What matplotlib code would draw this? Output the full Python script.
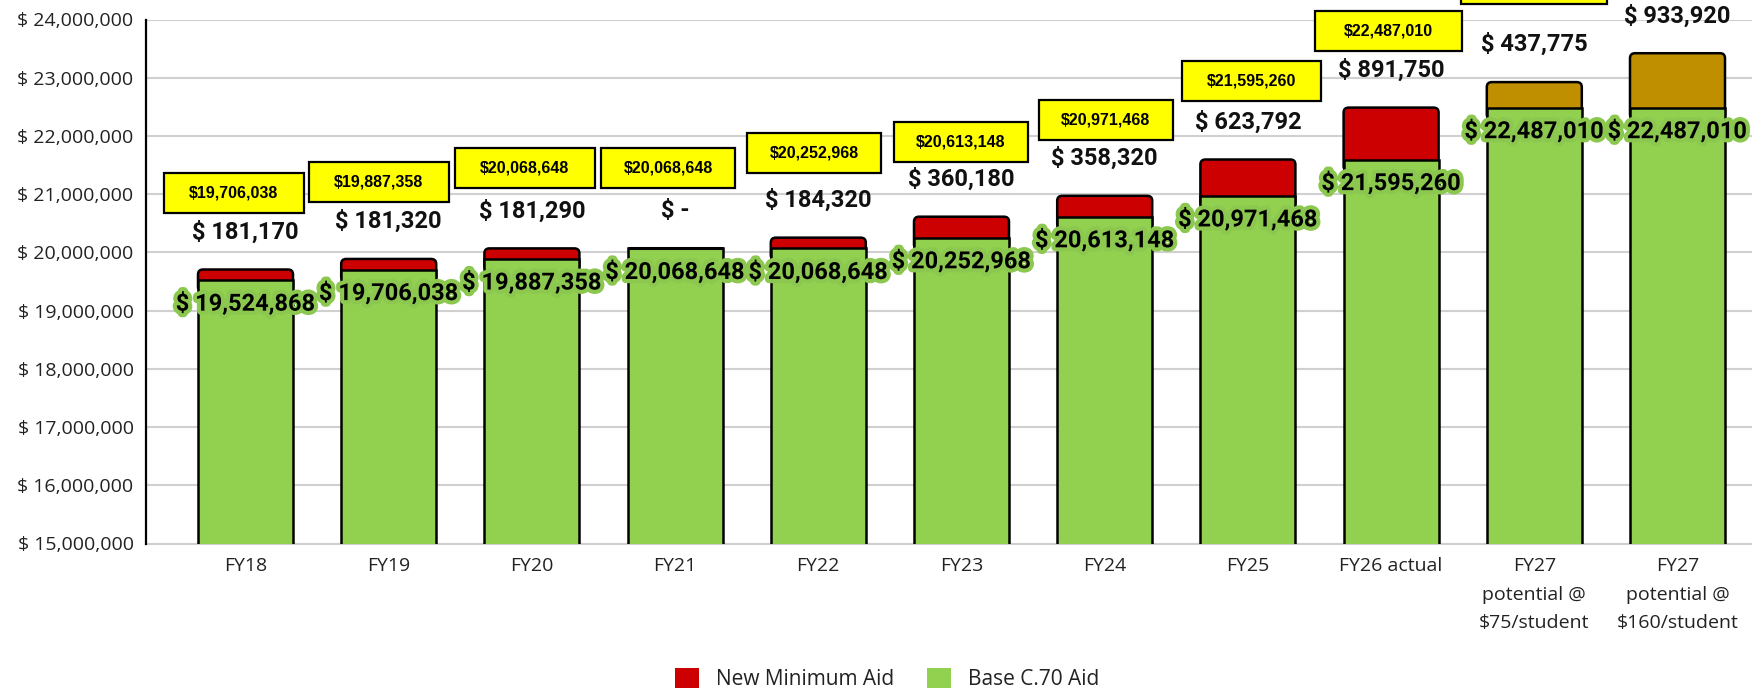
import matplotlib
matplotlib.use('Agg')
import numpy as np
import matplotlib.pyplot as plt
import matplotlib.patheffects as pe
import matplotlib.transforms as mtrans
from matplotlib.patches import FancyBboxPatch, Rectangle, Patch

categories = ['FY18', 'FY19', 'FY20', 'FY21', 'FY22', 'FY23', 'FY24', 'FY25', 'FY26 actual',
              'FY27\npotential @\n$75/student', 'FY27\npotential @\n$160/student']
base_aid = [19524868, 19706038, 19887358, 20068648, 20068648, 20252968,
            20613148, 20971468, 21595260, 22487010, 22487010]
min_aid = [181170, 181320, 181290, 0, 184320, 360180, 358320, 623792, 891750, 437775, 933920]
totals = [19706038, 19887358, 20068648, 20068648, 20252968, 20613148,
          20971468, 21595260, 22487010, 22924785, 23420930]
yticks = [15000000, 16000000, 17000000, 18000000, 19000000, 20000000,
          21000000, 22000000, 23000000, 24000000]

# layout of the yellow total boxes, in pixels
box_dx = [-12, -10, -7, -7, -4, -1, 1, 4, -3, 0, 0]
box_w = [140, 140, 140, 134, 134, 134, 134, 139, 147, 146, 146]
box_dy = [77, 77, 80, 80, 85, 75, 76, 79, 77, 98, 98]

green = '#92D050'
top_colors = ['#CC0000'] * 9 + ['#BF8F00'] * 2
tick_font = 'Open Sans'
tick_size = 14

W, H = 1752, 688
fig = plt.figure(figsize=(W / 100, H / 100), dpi=100)
ax = fig.add_axes([146 / W, 1 - 543.5 / H, 1 - 146 / W, 524 / H])

px_x = 143.2              # pixels per category
px_y = 524 / 9e6          # pixels per dollar
x = np.arange(len(categories))
bw = 95 / px_x

ax.set_xlim(-99.5 / px_x, (W - 245.5) / px_x)
ax.set_ylim(15e6, 24e6)

# top segments (rounded tops), then green base drawn over them
tops = ax.bar(x, min_aid, bottom=base_aid, width=bw, color=top_colors,
              edgecolor='black', linewidth=1.8, zorder=2)
r = 5 / px_x
for rect, c in zip(tops, top_colors):
    h = rect.get_height()
    if h <= 0:
        rect.set_zorder(4)
        rect.set_linewidth(2.2)
        continue
    ext = 0.2e6
    p = FancyBboxPatch((rect.get_x(), rect.get_y() - ext), rect.get_width(), h + ext,
                       boxstyle=f'round,pad=0,rounding_size={r}',
                       mutation_aspect=px_x / px_y,
                       facecolor=c, edgecolor='black', linewidth=1.8, zorder=2)
    ax.add_patch(p)
    rect.set_visible(False)

ax.bar(x, base_aid, width=bw, color=green, edgecolor='black', linewidth=1.8, zorder=3)

# labels
glow = [pe.withStroke(linewidth=6, foreground='#8CC84F')]
for i in range(len(categories)):
    ax.annotate(f'$ {base_aid[i]:,}', xy=(i, base_aid[i]), xytext=(0, -24 * 0.72),
                textcoords='offset points', ha='center', va='center',
                fontfamily='Roboto', fontweight='bold', fontsize=17,
                path_effects=glow, zorder=6, annotation_clip=False)
    lab = f'$ {min_aid[i]:,}' if min_aid[i] else '$ -'
    ax.annotate(lab, xy=(i, totals[i]), xytext=(0, 37.5 * 0.72),
                textcoords='offset points', ha='center', va='center',
                fontfamily='Roboto', fontweight='bold', fontsize=17,
                color='#111111', zorder=6, annotation_clip=False)
    tr = fig.dpi_scale_trans + mtrans.ScaledTranslation(i, totals[i], ax.transData)
    ax.add_patch(Rectangle(((box_dx[i] - box_w[i] / 2) / 100, (box_dy[i] - 20) / 100),
                           box_w[i] / 100, 0.40, transform=tr, facecolor='#FFFF00',
                           edgecolor='black', linewidth=1.6, clip_on=False, zorder=7))
    # the FY27 boxes sit above the top edge of the picture; their text is not shown
    if i < 9:
        ax.annotate(f'${totals[i]:,}', xy=(i, totals[i]),
                    xytext=(box_dx[i] * 0.72, box_dy[i] * 0.72),
                    textcoords='offset points', ha='center', va='center',
                    fontfamily='Liberation Sans', fontweight='bold', fontsize=11.5,
                    zorder=8, annotation_clip=False)

# axes styling
ax.set_yticks(yticks)
ax.set_yticklabels([f'$ {v:,}' for v in yticks], fontfamily=tick_font, fontsize=tick_size,
                   color='#222222')
ax.set_xticks(x)
ax.set_xticklabels(categories, fontfamily=tick_font, fontsize=tick_size, color='#222222',
                   linespacing=1.75, va='top')
ax.tick_params(axis='both', length=0)
ax.tick_params(axis='y', pad=9)
ax.tick_params(axis='x', pad=10)
ax.grid(axis='y', color='#D0D0D0', linewidth=1.5)
ax.set_axisbelow(True)
for s in ['top', 'right']:
    ax.spines[s].set_visible(False)
ax.spines['bottom'].set_color('#D0D0D0')
ax.spines['bottom'].set_linewidth(1.5)
ax.spines['left'].set_color('black')
ax.spines['left'].set_linewidth(1.6)
ax.spines['left'].set_zorder(5)

handles = [Patch(facecolor='#CC0000'), Patch(facecolor=green)]
fig.legend(handles, ['New Minimum Aid', 'Base C.70 Aid'], loc='center',
           bbox_to_anchor=(887 / W, 1 - 679 / H), ncol=2, frameon=False,
           prop={'family': tick_font, 'size': 15}, handlelength=1.15,
           handleheight=1.15, handletextpad=0.8, columnspacing=1.6,
           labelcolor='#222222', borderpad=0)

fig.savefig('out.png', dpi=100)
